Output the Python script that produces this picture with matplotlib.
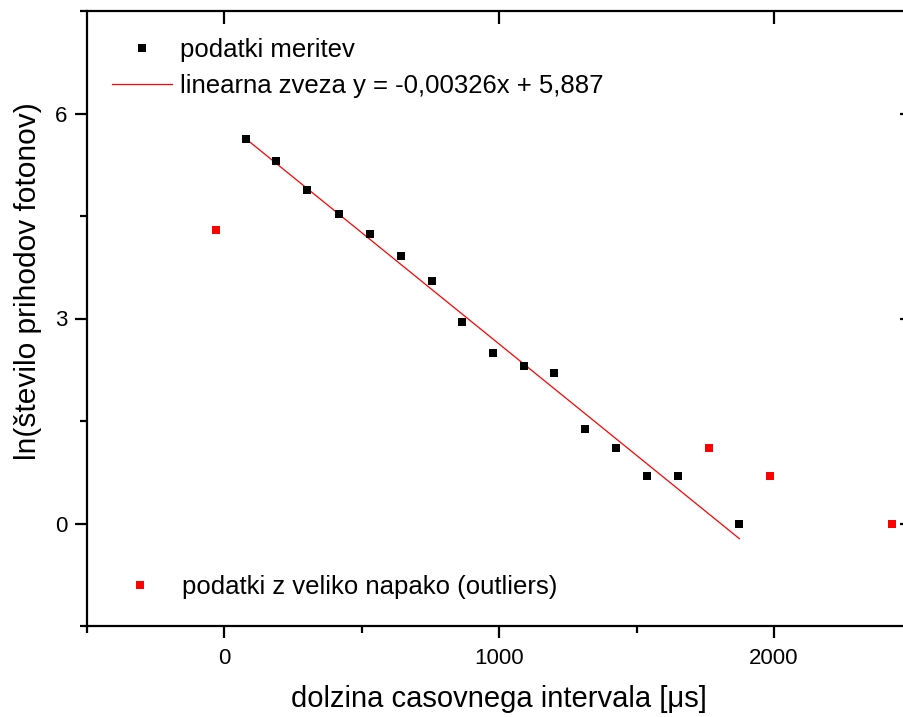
import matplotlib
matplotlib.use("Agg")
import matplotlib.pyplot as plt
from matplotlib.lines import Line2D
from matplotlib.ticker import MultipleLocator
import numpy as np

plt.rcParams['font.family'] = ['Liberation Sans', 'DejaVu Sans']

# measured data (good points)
x_good = [80, 190, 302, 418, 531, 644, 755, 866, 977, 1091, 1201, 1313, 1425, 1538, 1651, 1874]
y_good = [5.62, 5.31, 4.88, 4.53, 4.24, 3.91, 3.55, 2.95, 2.49, 2.30, 2.20, 1.39, 1.10, 0.69, 0.69, 0.00]
# outliers
x_out = [-30, 1762, 1985, 2430]
y_out = [4.29, 1.10, 0.69, 0.00]
# linear fit
slope = -0.00326
intercept = 5.887
fit_label = "linearna zveza y = -0,00326x + 5,887"

W, H = 904, 717
fig = plt.figure(figsize=(W / 100, H / 100), dpi=100)
left_px, right_px, top_px, bot_px = 86.7, 911.5, 11.0, 626.0
aw, ah = right_px - left_px, bot_px - top_px
ax = fig.add_axes([left_px / W, (H - bot_px) / H, aw / W, ah / H])

ax.plot(x_good, y_good, 's', color='black', ms=6.3, mew=0, zorder=3)
ax.plot(x_out, y_out, 's', color='#ff0000', ms=6.3, mew=0, zorder=3)
xf = np.array([x_good[0], x_good[-1]])
ax.plot(xf, slope * xf + intercept, '-', color='#ff0000', lw=0.9, zorder=2)

ax.set_xlim(-500, 2500)
ax.set_ylim(-1.5, 7.5)
ax.xaxis.set_major_locator(MultipleLocator(1000))
ax.xaxis.set_minor_locator(MultipleLocator(500))
ax.yaxis.set_major_locator(MultipleLocator(3))
ax.yaxis.set_minor_locator(MultipleLocator(1.5))

for s in ax.spines.values():
    s.set_linewidth(1.6)

ax.tick_params(axis='x', which='major', direction='out', length=8.5, width=1.6,
               labelsize=16, pad=7)
ax.tick_params(axis='y', which='major', direction='out', length=8.5, width=1.6,
               labelsize=16, pad=5.5)
ax.tick_params(axis='both', which='minor', direction='out', length=4.8, width=1.6)
# top and right ticks inward (major only)
secx = ax.secondary_xaxis('top')
secx.xaxis.set_major_locator(MultipleLocator(1000))
secx.tick_params(direction='in', length=9, width=1.6, labeltop=False)
secx.set_xticklabels([])
secx.spines['top'].set_visible(False)
secy = ax.secondary_yaxis('right')
secy.yaxis.set_major_locator(MultipleLocator(3))
secy.tick_params(direction='in', length=9, width=1.6, labelright=False)
secy.set_yticklabels([])
secy.spines['right'].set_visible(False)

ax.set_xlabel("dolzina casovnega intervala [μs]", fontsize=21, labelpad=12)
ax.set_ylabel("ln(število prihodov fotonov)", fontsize=21.5)
ax.yaxis.set_label_coords((42 - left_px) / aw, (bot_px - 281) / ah)

lfs = 18.5
h1 = Line2D([], [], ls='none', marker='s', color='black', ms=6.3, mew=0)
h2 = Line2D([], [], ls='-', color='#ff0000', lw=0.9)
leg1 = ax.legend([h1, h2], ["podatki meritev", fit_label], loc='upper left',
                 bbox_to_anchor=((112.5 - left_px) / aw, (bot_px - 38) / ah),
                 frameon=False, fontsize=lfs, numpoints=1, handlelength=2.3,
                 handletextpad=0.31, labelspacing=0.48, borderpad=0, borderaxespad=0)
ax.add_artist(leg1)
h3 = Line2D([], [], ls='none', marker='s', color='#ff0000', ms=6.3, mew=0)
ax.legend([h3], ["podatki z veliko napako (outliers)"], loc='lower left',
          bbox_to_anchor=((108.5 - left_px) / aw, (bot_px - 599) / ah),
          frameon=False, fontsize=lfs, numpoints=1, handlelength=2.45,
          handletextpad=0.41, borderpad=0, borderaxespad=0)

fig.savefig("out.png", dpi=100)
